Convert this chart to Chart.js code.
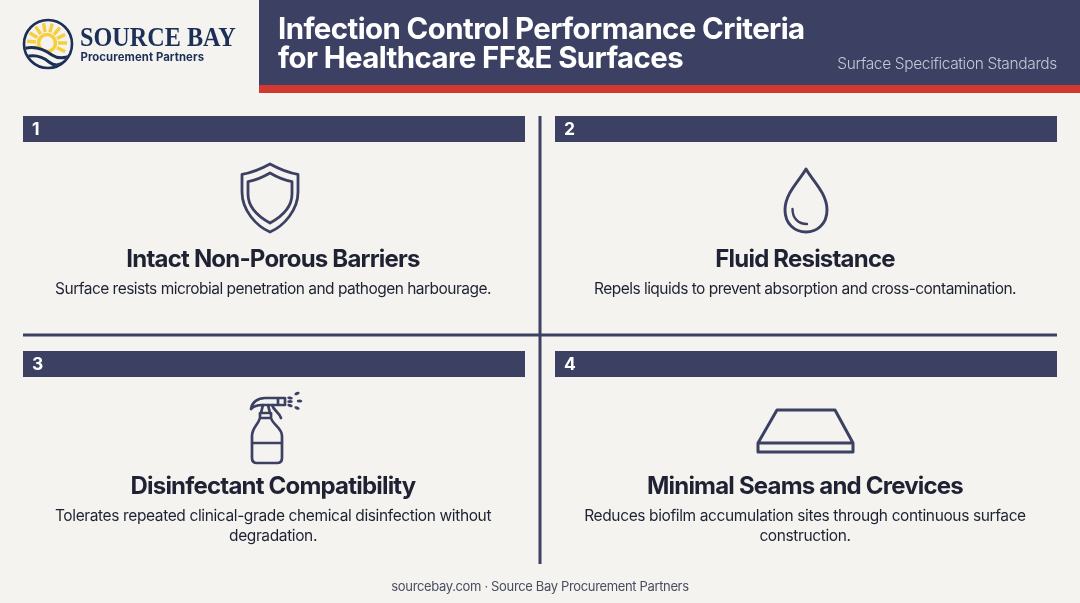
<!DOCTYPE html>
<html><head><meta charset="utf-8">
<style>html,body{margin:0;padding:0;background:#f4f3ef;overflow:hidden}#w{position:relative;width:1080px;height:603px}</style>
<script src="https://cdn.jsdelivr.net/npm/chart.js@4/dist/chart.umd.min.js"></script>
</head><body><div id="w"><canvas id="c" width="1080" height="603"></canvas></div>
<script>
const headerLines = ["Infection Control Performance Criteria", "for Healthcare FF&E Surfaces"];
const headerTag = "Surface Specification Standards";
const brandName = "SOURCE BAY";
const brandSub = "Procurement Partners";
const cardNumbers = ["1", "2", "3", "4"];
const cardTitles = ["Intact Non-Porous Barriers", "Fluid Resistance", "Disinfectant Compatibility", "Minimal Seams and Crevices"];
const cardDescriptions = [
  ["Surface resists microbial penetration and pathogen harbourage."],
  ["Repels liquids to prevent absorption and cross-contamination."],
  ["Tolerates repeated clinical-grade chemical disinfection without", "degradation."],
  ["Reduces biofilm accumulation sites through continuous surface", "construction."]
];
const footerText = "sourcebay.com · Source Bay Procurement Partners";

const NAVY = "#3c4163", RED = "#d1382f", BG = "#f4f3ef", INK = "#1f2233";
const FONT = "Inter, 'Liberation Sans', sans-serif";
const colX = [[23, 525], [555, 1057]];
const stripY = [129, 129, 364, 364];
const centers = [273, 805, 273, 805];
const titleY = [267, 267, 494, 494];
const descY = [293.5, 293.5, 521, 521];
const descSpacing = [-0.52, -0.52, -0.38, -0.38];

function band(x0, x1, y, h, color) {
  return {type: "line", data: [{x: x0, y}, {x: x1, y}], borderColor: color, borderWidth: h,
          pointRadius: 0, borderCapStyle: "butt", tension: 0};
}
const datasets = [
  band(259, 1080, 42.5, 85, NAVY),
  band(259, 1080, 89, 8, RED),
  {type: "line", data: [{x: 540, y: 116}, {x: 540, y: 564}], borderColor: NAVY, borderWidth: 3, pointRadius: 0, borderCapStyle: "butt"},
  band(23, 1057, 335, 3, NAVY)
];
cardNumbers.forEach((n, i) => { const c = colX[i % 2]; datasets.push(band(c[0], c[1], stripY[i], 26, NAVY)); });

function text(ctx, s, x, y, font, color, align, spacing, sx) {
  ctx.save();
  ctx.font = font; ctx.fillStyle = color; ctx.textAlign = align || "left"; ctx.textBaseline = "alphabetic";
  ctx.letterSpacing = (spacing || 0) + "px";
  if (sx) { ctx.translate(x, y); ctx.scale(sx, 1); ctx.fillText(s, 0, 0); }
  else ctx.fillText(s, x, y);
  ctx.restore();
}

function stroke(ctx, color, w, fn) {
  ctx.save(); ctx.strokeStyle = color; ctx.lineWidth = w; ctx.lineJoin = "round"; ctx.lineCap = "round";
  ctx.beginPath(); fn(ctx); ctx.stroke(); ctx.restore();
}

function logo(ctx) {
  const navy = "#1b2f57", sun = "#f5cf3c";
  const cx = 48, cy = 44, r = 24;
  ctx.save();
  ctx.beginPath(); ctx.arc(cx, cy, r - 1, 0, Math.PI * 2); ctx.clip();
  ctx.strokeStyle = sun; ctx.lineCap = "butt";
  ctx.lineWidth = 3.6;
  ctx.beginPath(); ctx.arc(cx - 1, cy - 1, 8.5, 0, Math.PI * 2); ctx.stroke();
  for (let a = 160; a <= 385; a += 25) {
    const t = a * Math.PI / 180;
    ctx.beginPath();
    ctx.moveTo(cx - 1 + Math.cos(t) * 11, cy - 1 + Math.sin(t) * 11);
    ctx.lineTo(cx - 1 + Math.cos(t) * 20, cy - 1 + Math.sin(t) * 20);
    ctx.lineWidth = 3.4; ctx.stroke();
  }
  ctx.fillStyle = BG;
  ctx.beginPath(); ctx.moveTo(22, 48); ctx.bezierCurveTo(35, 44, 45, 50, 52, 56); ctx.bezierCurveTo(58, 60, 66, 60, 74, 54);
  ctx.lineTo(74, 72); ctx.lineTo(22, 72); ctx.closePath(); ctx.fill();
  ctx.strokeStyle = navy; ctx.lineWidth = 3;
  ctx.beginPath(); ctx.moveTo(23, 49); ctx.bezierCurveTo(35, 45, 45, 50, 52, 55); ctx.bezierCurveTo(58, 59, 64, 59, 72, 55); ctx.stroke();
  ctx.beginPath(); ctx.moveTo(25, 57); ctx.bezierCurveTo(35, 54, 43, 57, 49, 62); ctx.bezierCurveTo(54, 66, 60, 66, 66, 61); ctx.stroke();
  ctx.restore();
  stroke(ctx, navy, 2.6, c => { c.arc(cx, cy, r, 0, Math.PI * 2); });
}

function shield(ctx, x) {
  const s = (c, top, dip, side, bot, hw) => {
    c.moveTo(x, top);
    c.bezierCurveTo(x + hw * .35, top + dip * .6, x + hw * .7, top + dip, x + hw, top + dip * 1.15);
    c.lineTo(x + hw, side);
    c.bezierCurveTo(x + hw, side + (bot - side) * .45, x + hw * .5, bot - 6, x, bot);
    c.bezierCurveTo(x - hw * .5, bot - 6, x - hw, side + (bot - side) * .45, x - hw, side);
    c.lineTo(x - hw, top + dip * 1.15);
    c.bezierCurveTo(x - hw * .7, top + dip, x - hw * .35, top + dip * .6, x, top);
    c.closePath();
  };
  stroke(ctx, NAVY, 2.8, c => s(c, 164, 9, 192, 232, 28));
  stroke(ctx, NAVY, 2.8, c => s(c, 173, 7.5, 194, 223, 22));
}

function drop(ctx) {
  const x = 806;
  stroke(ctx, NAVY, 2.9, c => {
    c.moveTo(x, 169);
    c.bezierCurveTo(x + 6, 180, x + 21, 193, x + 21, 210);
    c.bezierCurveTo(x + 21, 224, x + 11, 232, x, 232);
    c.bezierCurveTo(x - 11, 232, x - 21, 224, x - 21, 210);
    c.bezierCurveTo(x - 21, 193, x - 6, 180, x, 169);
    c.closePath();
  });
  stroke(ctx, NAVY, 2.4, c => { c.moveTo(792.5, 209); c.bezierCurveTo(792.5, 218, 798, 224, 807, 224); });
}

function bottle(ctx) {
  stroke(ctx, NAVY, 2.7, c => {
    c.moveTo(251, 409); c.bezierCurveTo(252, 402, 258, 398, 265, 398); c.lineTo(285, 398);
    c.lineTo(285, 405); c.lineTo(262, 405); c.bezierCurveTo(258, 405, 254, 406, 251, 409);
    c.moveTo(278, 398); c.lineTo(278, 405);
    c.moveTo(263, 405); c.lineTo(261, 413); c.moveTo(268, 405); c.lineTo(270, 413);
    c.moveTo(260, 413); c.lineTo(271, 413); c.lineTo(271, 418); c.lineTo(260, 418); c.closePath();
    c.moveTo(260, 418); c.bezierCurveTo(258, 425, 252, 428, 252, 436); c.lineTo(252, 458);
    c.quadraticCurveTo(252, 463, 257, 463); c.lineTo(277, 463); c.quadraticCurveTo(282, 463, 282, 458);
    c.lineTo(282, 436); c.bezierCurveTo(282, 428, 273, 425, 271, 418);
    c.moveTo(252, 443); c.lineTo(282, 443);
    c.moveTo(272, 405); c.bezierCurveTo(274, 411, 279, 412, 281, 418);
  });
  ctx.save(); ctx.fillStyle = NAVY;
  [[297, 393.5, -.4], [290, 398, .2], [290, 401.5, 0], [299.5, 401, 0], [290, 405.5, .3], [297, 408, .4]].forEach(p => {
    ctx.beginPath(); ctx.ellipse(p[0], p[1], 2.8, 1.5, p[2], 0, Math.PI * 2); ctx.fill();
  });
  ctx.restore();
}

function slab(ctx) {
  stroke(ctx, NAVY, 3, c => {
    c.moveTo(758, 443); c.lineTo(777, 410); c.lineTo(835, 410); c.lineTo(853, 443); c.closePath();
    c.moveTo(758, 443); c.lineTo(758, 452); c.lineTo(853, 452); c.lineTo(853, 443);
  });
}

const overlay = {
  id: "overlay",
  afterDatasetsDraw(chart) {
    const ctx = chart.ctx;
    logo(ctx);
    text(ctx, brandName, 80, 46, "bold 27.5px 'Liberation Serif', serif", "#1b2f57", "left", 0, 0.88);
    text(ctx, brandSub, 80.5, 61, "bold 11.3px " + FONT, "#1b2f57", "left", 0.1);
    text(ctx, headerLines[0], 278, 39, "bold 29.4px " + FONT, "#fff", "left", -0.58);
    text(ctx, headerLines[1], 278, 68, "bold 29.4px " + FONT, "#fff", "left", -0.58);
    text(ctx, headerTag, 1057, 69, "300 15.5px " + FONT, "#c6c8d3", "right", -0.35);
    cardNumbers.forEach((n, i) => {
      text(ctx, n, colX[i % 2][0] + 9, stripY[i] + 6, "bold 17.5px " + FONT, "#fff", "left", 0);
      text(ctx, cardTitles[i], centers[i], titleY[i], "bold 24px " + FONT, INK, "center", -0.8);
      cardDescriptions[i].forEach((d, j) => {
        text(ctx, d, centers[i], descY[i] + j * 20, "400 15.5px " + FONT, INK, "center", descSpacing[i]);
      });
    });
    text(ctx, footerText, 540, 591, "400 13px " + FONT, "#4a4d60", "center", -0.35);
    shield(ctx, 270);
    drop(ctx); bottle(ctx); slab(ctx);
  }
};

new Chart(document.getElementById("c"), {
  type: "scatter",
  data: {datasets},
  options: {
    responsive: false, animation: false, devicePixelRatio: 1,
    layout: {padding: 0},
    plugins: {legend: {display: false}, tooltip: {enabled: false}},
    scales: {
      x: {type: "linear", min: 0, max: 1080, display: false},
      y: {type: "linear", min: 0, max: 603, reverse: true, display: false}
    }
  },
  plugins: [overlay]
});
</script></body></html>
